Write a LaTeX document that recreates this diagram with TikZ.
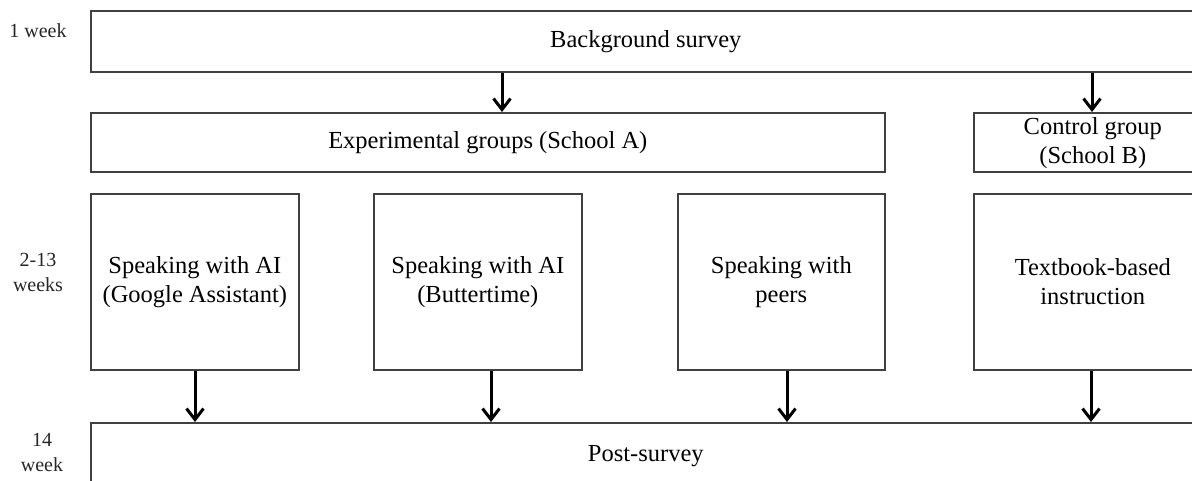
\documentclass[tikz,border=0pt]{standalone}
\usepackage{fontspec}
\setmainfont{Liberation Serif}
\usetikzlibrary{arrows.meta}
\begin{document}
\begin{tikzpicture}[x=0.5pt,y=-0.5pt,
  box/.style={draw=black!75,line width=0.8pt,anchor=north west,inner sep=0pt,align=center,
    font=\fontsize{12.25}{14.5}\selectfont},
  side/.style={align=center,font=\fontsize{10}{12.5}\selectfont,text=black!85},
  arr/.style={line width=1.5pt,-{Straight Barb[length=5.5pt,width=8.5pt,line width=1.5pt]}}]
\useasboundingbox (0,0) rectangle (1192,481);
\clip (0,0) rectangle (1192,481);
\fill[white] (0,0) rectangle (1192,481);
% side labels
\node[side] (w1) at (38,31) {1 week};
\node[side] (w2) at (38,272) {2-13\\weeks};
\node[side] (w3) at (42,452) {14\\week};
% boxes
\node[box,minimum width=555pt,minimum height=30.5pt] (bg) at (90,10) {Background survey};
\node[box,minimum width=397pt,minimum height=29.5pt] (exp) at (90,112) {Experimental groups (School A)};
\node[box,minimum width=119pt,minimum height=29.5pt,text depth=1.5pt] (ctl) at (973,112) {Control group\\(School B)};
\node[box,minimum width=104pt,minimum height=88pt] (g1) at (90,193) {Speaking with AI\\(Google Assistant)};
\node[box,minimum width=104pt,minimum height=88pt] (g2) at (373,193) {Speaking with AI\\(Buttertime)};
\node[box,minimum width=103.5pt,minimum height=88pt] (g3) at (677,193) {Speaking with\\peers};
\node[box,minimum width=119pt,minimum height=88pt] (g4) at (973,193) {Textbook-based\\instruction};
\node[box,minimum width=555pt,minimum height=33pt] (post) at (90,422) {Post-survey};
% arrow positions
\coordinate (a1) at (502,0);
\coordinate (a2) at (1092,0);
\coordinate (b1) at (195,0);
\coordinate (b2) at (491,0);
\coordinate (b3) at (787,0);
\coordinate (b4) at (1091,0);
\draw[arr] (bg.south -| a1) -- (exp.north -| a1);
\draw[arr] (bg.south -| a2) -- (ctl.north -| a2);
\draw[arr] (g1.south -| b1) -- (post.north -| b1);
\draw[arr] (g2.south -| b2) -- (post.north -| b2);
\draw[arr] (g3.south -| b3) -- (post.north -| b3);
\draw[arr] (g4.south -| b4) -- (post.north -| b4);
\end{tikzpicture}
\end{document}
